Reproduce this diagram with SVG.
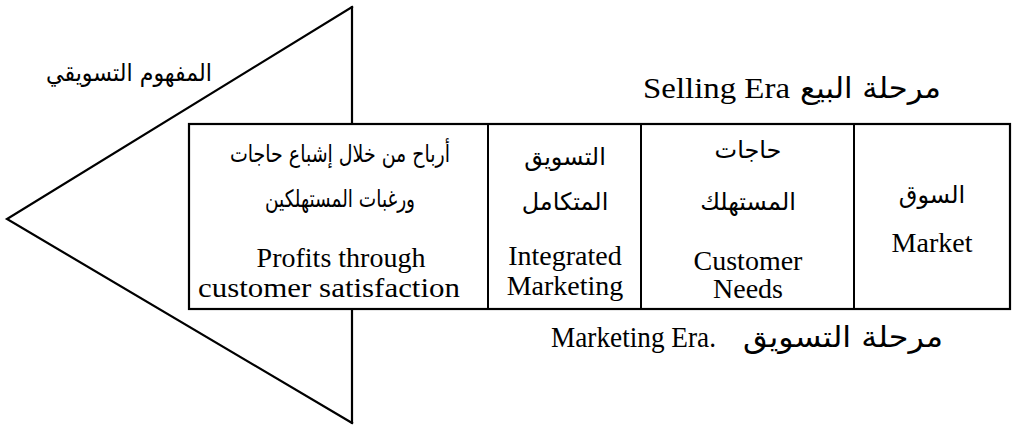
<svg xmlns="http://www.w3.org/2000/svg" width="1021" height="427" viewBox="0 0 1021 427">
<style>
.ln{stroke:#000;stroke-width:2.2;fill:none;stroke-linecap:square}
.box{stroke:#000;stroke-width:2.2;fill:#fff}
.div{stroke:#000;stroke-width:2}
.en{font-family:"Liberation Serif","Times New Roman",serif;font-size:28px;fill:#000}
.ar{font-family:"DejaVu Sans","Noto Sans",sans-serif;font-size:24px;fill:#000}
.lab{font-family:"Liberation Serif","Times New Roman",serif;font-size:30px;fill:#000}
.arl{font-family:"DejaVu Sans","Noto Sans",sans-serif;font-size:29px;fill:#000}
.mid{text-anchor:middle}
</style>
<g id="connectors">
<polyline class="ln" points="352,7 7,219 352,423"/>
<line class="ln" x1="352" y1="7" x2="352" y2="423"/>
</g>
<g id="concept-label">
<text class="ar" x="212" y="81" text-anchor="end" textLength="166" lengthAdjust="spacingAndGlyphs">المفهوم التسويقي</text>
</g>
<g id="selling-era">
<text class="lab" x="643" y="98" textLength="147" lengthAdjust="spacingAndGlyphs">Selling Era</text>
<text class="arl" x="941" y="98" text-anchor="end" textLength="141" lengthAdjust="spacingAndGlyphs">مرحلة البيع</text>
</g>
<g id="stages">
<rect class="box" x="189" y="124" width="821" height="185"/>
<line class="div" x1="488" y1="124" x2="488" y2="309"/>
<line class="div" x1="641" y1="124" x2="641" y2="309"/>
<line class="div" x1="854" y1="124" x2="854" y2="309"/>
</g>
<g id="cell-profits">
<text class="ar mid" x="340" y="162" textLength="220" lengthAdjust="spacingAndGlyphs">أرباح من خلال إشباع حاجات</text>
<text class="ar mid" x="340" y="207" textLength="150" lengthAdjust="spacingAndGlyphs">ورغبات المستهلكين</text>
<text class="en mid" x="341" y="267">Profits through</text>
<text class="en mid" x="329" y="297" textLength="262" lengthAdjust="spacingAndGlyphs">customer satisfaction</text>
</g>
<g id="cell-integrated">
<text class="ar mid" x="565" y="165">التسويق</text>
<text class="ar mid" x="565" y="210">المتكامل</text>
<text class="en mid" x="565" y="265">Integrated</text>
<text class="en mid" x="565" y="295">Marketing</text>
</g>
<g id="cell-needs">
<text class="ar mid" x="748" y="158">حاجات</text>
<text class="ar mid" x="748" y="210">المستهلك</text>
<text class="en mid" x="748" y="270">Customer</text>
<text class="en mid" x="748" y="298">Needs</text>
</g>
<g id="cell-market">
<text class="ar mid" x="932" y="203">السوق</text>
<text class="en mid" x="932" y="252">Market</text>
</g>
<g id="marketing-era">
<text class="lab" x="551" y="347" textLength="165" lengthAdjust="spacingAndGlyphs">Marketing Era.</text>
<text class="arl" x="943" y="347" text-anchor="end" textLength="200" lengthAdjust="spacingAndGlyphs">مرحلة التسويق</text>
</g>
</svg>
